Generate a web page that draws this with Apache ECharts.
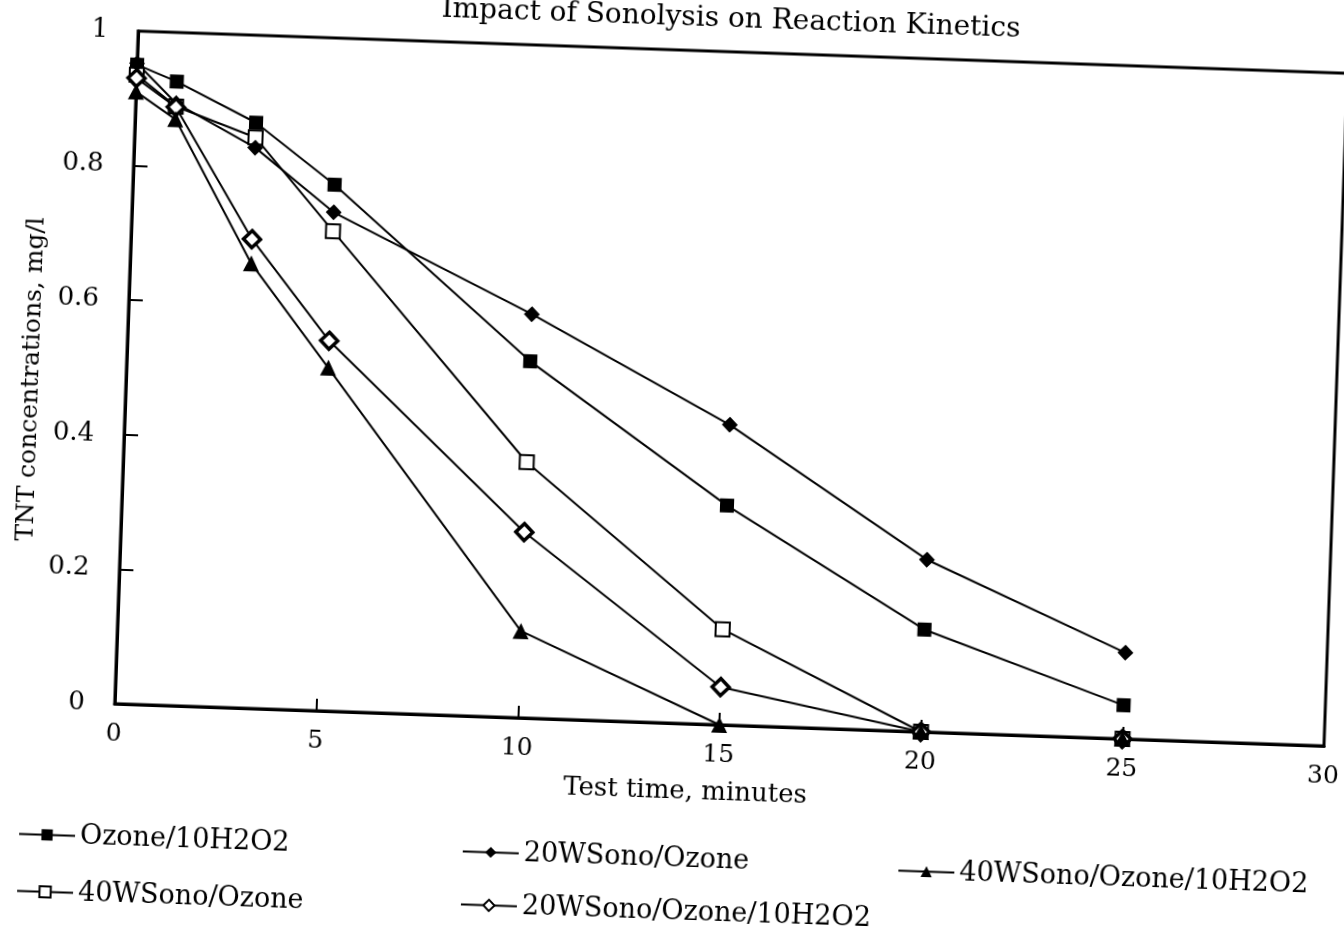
<!DOCTYPE html>
<html><head><meta charset="utf-8">
<script src="https://cdn.jsdelivr.net/npm/echarts@6/dist/echarts.min.js"></script>
<style>
html,body{margin:0;padding:0;background:#fff;overflow:hidden;width:1344px;height:935px}
#chart{width:1420px;height:935px;transform:rotate(2deg);transform-origin:731px 391px;}
</style></head><body><div id="chart"></div>
<script>
const titleText = 'Impact of Sonolysis on Reaction Kinetics';
const xAxisName = 'Test time, minutes';
const yAxisName = 'TNT concentrations, mg/l';
const times = [0, 1, 3, 5, 10, 15, 20, 25];
const names = ['Ozone/10H2O2', '40WSono/Ozone', '20WSono/Ozone', '20WSono/Ozone/10H2O2', '40WSono/Ozone/10H2O2'];
const ozone10H2O2       = [0.95, 0.927, 0.87, 0.782, 0.53, 0.326, 0.152, 0.05];
const sono40Ozone       = [0.935, 0.89, 0.848, 0.713, 0.38, 0.142, 0, 0];
const sono20Ozone       = [0.952, 0.895, 0.833, 0.741, 0.6, 0.446, 0.256, 0.128];
const sono20Ozone10H2O2 = [0.93, 0.889, 0.697, 0.55, 0.276, 0.056, 0, 0];
const sono40Ozone10H2O2 = [0.91, 0.871, 0.661, 0.51, 0.129, 0, 0, 0];
const xTicks = [0, 5, 10, 15, 20, 25, 30];
const yTicks = [0, 0.2, 0.4, 0.6, 0.8, 1];

const FONT = 'DejaVu Serif';
const pair = arr => times.map((t, i) => [t, arr[i]]);

function mk(name, data, symbol, size, filled, bw) {
  return {
    name, type: 'line', data: pair(data), symbol, symbolSize: size,
    lineStyle: {color: '#000', width: 2},
    itemStyle: filled ? {color: '#000', borderColor: '#000', borderWidth: 0}
                      : {color: '#fff', borderColor: '#000', borderWidth: bw},
    emphasis: {disabled: true}, animation: false
  };
}

function leg(name, left, top) {
  return {
    data: [name], left, top, orient: 'horizontal', itemWidth: 56, itemHeight: 14,
    textStyle: {fontFamily: FONT, fontSize: 27, color: '#000'},
    selectedMode: false
  };
}

const chart = echarts.init(document.getElementById('chart'), null, {renderer: 'canvas'});
chart.setOption({
  backgroundColor: '#fff',
  animation: false,
  title: {
    text: titleText, left: 713, top: 1, textAlign: 'center',
    textStyle: {fontFamily: FONT, fontSize: 28, fontWeight: 'normal', color: '#000'}
  },
  grid: {left: 126, top: 52, width: 1210, height: 673, outerBoundsMode: 'none', containLabel: false,
         show: true, borderColor: '#000', borderWidth: 3, backgroundColor: 'transparent'},
  legend: [
    leg(names[0], 29, 840),
    leg(names[1], 29, 897),
    leg(names[2], 473, 842),
    leg(names[3], 473, 895),
    leg(names[4], 909, 846)
  ],
  xAxis: {
    type: 'value', min: 0, max: 30, interval: 5,
    name: xAxisName, nameLocation: 'middle', nameGap: 55,
    nameTextStyle: {fontFamily: FONT, fontSize: 26, color: '#000', padding: [0, 64, 0, 0]},
    axisLine: {show: true, onZero: false, lineStyle: {color: '#000', width: 3}},
    axisTick: {show: true, inside: true, length: 12, lineStyle: {color: '#000', width: 2}},
    axisLabel: {fontFamily: FONT, fontSize: 25, color: '#000', margin: 18,
      formatter: v => xTicks.includes(v) ? String(v) : ''},
    splitLine: {show: false}
  },
  yAxis: {
    type: 'value', min: 0, max: 1, interval: 0.2,
    name: yAxisName, nameLocation: 'middle', nameGap: 80, nameRotate: 90,
    nameTextStyle: {fontFamily: FONT, fontSize: 25, color: '#000', padding: [0, 30, 0, 0]},
    axisLine: {show: true, lineStyle: {color: '#000', width: 3}},
    axisTick: {show: true, inside: true, length: 14, lineStyle: {color: '#000', width: 2}},
    axisLabel: {fontFamily: FONT, fontSize: 26, color: '#000', margin: 30,
      formatter: v => { const t = yTicks.find(y => Math.abs(y - v) < 1e-9); return t === undefined ? '' : String(t); }},
    splitLine: {show: false}
  },
  series: [
    mk(names[0], ozone10H2O2, 'rect', 14, true, 0),
    mk(names[1], sono40Ozone, 'rect', 14, false, 2),
    mk(names[2], sono20Ozone, 'diamond', 16, true, 0),
    mk(names[3], sono20Ozone10H2O2, 'diamond', 17, false, 3.5),
    mk(names[4], sono40Ozone10H2O2, 'triangle', 16, true, 0)
  ]
});
</script></body></html>
